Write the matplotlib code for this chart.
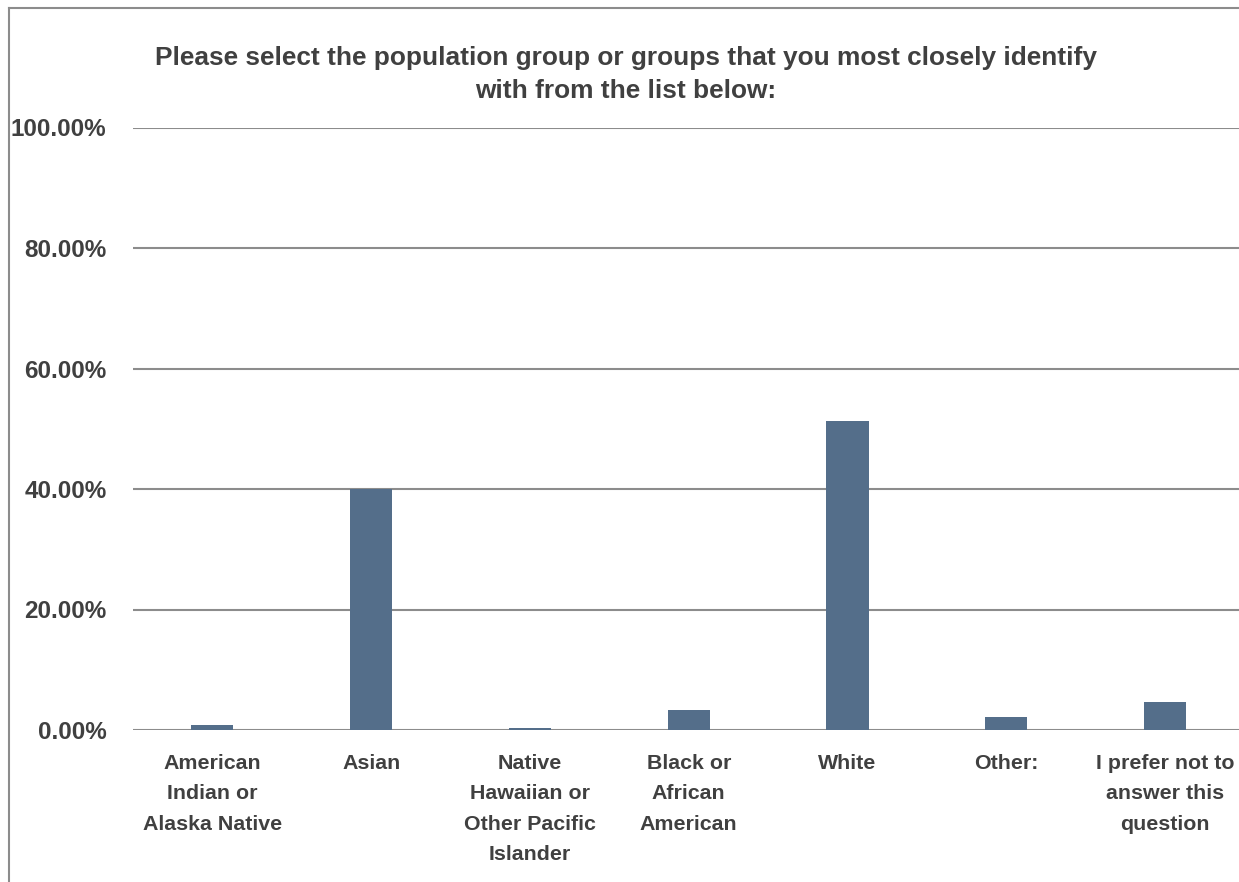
import matplotlib.pyplot as plt
from matplotlib.lines import Line2D

plt.rcParams['font.family'] = ['Liberation Sans', 'DejaVu Sans']
plt.rcParams['font.weight'] = 'bold'

# data
categories = ['American\nIndian or\nAlaska Native', 'Asian',
              'Native\nHawaiian or\nOther Pacific\nIslander',
              'Black or\nAfrican\nAmerican', 'White', 'Other:',
              'I prefer not to\nanswer this\nquestion']
values = [0.8, 40.0, 0.3, 3.3, 51.3, 2.1, 4.6]  # percent
yticks = [0, 20, 40, 60, 80, 100]
title = ('Please select the population group or groups that you most closely identify\n'
         'with from the list below:')

W, H = 1239, 882
fig = plt.figure(figsize=(W / 100, H / 100), dpi=100)
ax = fig.add_axes([133 / W, (H - 730) / H, (1244.5 - 133) / W, (730 - 127.5) / H])

x = range(len(categories))
ax.bar(x, values, width=0.265, color='#546e8a', zorder=3)
ax.set_xlim(-0.5, len(categories) - 0.5)
ax.set_ylim(0, 100)

ax.set_yticks(yticks)
ax.set_yticklabels([f'{v:.2f}%' for v in yticks], fontsize=17.5, color='#404040')
ax.set_xticks(list(x))
ax.set_xticklabels(categories, fontsize=15.4, color='#404040', linespacing=1.74)
ax.tick_params(axis='y', length=0, pad=19)
ax.tick_params(axis='x', length=0, pad=17.5)
ax.yaxis.grid(True, color='#8c8c8c', linewidth=1.5, zorder=0)
for s in ax.spines.values():
    s.set_visible(False)

fig.text(626 / W, 1 - 74.5 / H, title, ha='center', va='center', fontsize=18.9,
         color='#404040', linespacing=1.5)

# outer border (left and top)
fig.add_artist(Line2D([8.5 / W, 8.5 / W], [0, 1 - 7.5 / H], transform=fig.transFigure,
                      color='#8c8c8c', linewidth=1.5))
fig.add_artist(Line2D([8.5 / W, 1], [1 - 7.5 / H, 1 - 7.5 / H], transform=fig.transFigure,
                      color='#8c8c8c', linewidth=1.5))

fig.savefig('out.png', dpi=100, facecolor='white')
